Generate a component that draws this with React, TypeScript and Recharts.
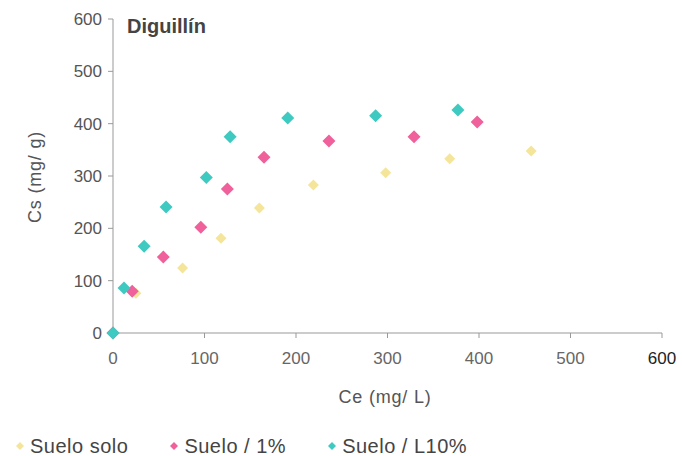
import React from "react";
import { ScatterChart, Scatter, XAxis, YAxis } from "recharts";

// Suelo solo
const soloCe = [0, 25, 76, 118, 160, 219, 298, 368, 457];
const soloCs = [0, 76, 124, 181, 239, 283, 306, 333, 348];

// Suelo / 1%
const unoCe = [0, 21, 55, 96, 125, 165, 236, 329, 398];
const unoCs = [0, 80, 145, 202, 275, 336, 367, 375, 403];

// Suelo / L10%
const diezCe = [0, 12, 34, 58, 102, 128, 191, 287, 377];
const diezCs = [0, 86, 166, 241, 297, 375, 411, 415, 426];

const xTicks = [0, 100, 200, 300, 400, 500, 600];
const yTicks = [0, 100, 200, 300, 400, 500, 600];

const seriesNames = ["Suelo solo", "Suelo / 1%", "Suelo / L10%"];
const seriesColors = ["#f4e59b", "#f0609a", "#3fcac1"];

const toPoints = (ce: number[], cs: number[]) =>
  ce.map((c, i) => ({ ce: c, cs: cs[i] }));

const soloData = toPoints(soloCe, soloCs);
const unoData = toPoints(unoCe, unoCs);
const diezData = toPoints(diezCe, diezCs);

const FONT = "'Liberation Sans', Arial, sans-serif";

const diamond = (color: string, r: number) => (props: any) => {
  const { cx, cy } = props;
  return (
    <polygon
      points={`${cx},${cy - r} ${cx + r},${cy} ${cx},${cy + r} ${cx - r},${cy}`}
      fill={color}
    />
  );
};

const XTick = (props: any) => {
  const { x, y, payload } = props;
  return (
    <text
      x={x}
      y={y}
      dy={24}
      textAnchor="middle"
      fontSize={17}
      fontFamily={FONT}
      fill={payload.value === 600 ? "#222" : "#666"}
    >
      {payload.value}
    </text>
  );
};

const App = () => {
  return (
    <div style={{ position: "absolute", left: 0, top: 0, width: 682, height: 456, background: "#fff" }}>
      <ScatterChart
        width={682}
        height={456}
        margin={{ top: 19, right: 20, left: 0, bottom: 0 }}
      >
        <XAxis
          type="number"
          dataKey="ce"
          domain={[0, 600]}
          ticks={xTicks}
          height={123}
          stroke="#999"
          tickSize={5}
          tick={<XTick />}
          label={{
            content: () => (
              <text x={385} y={403} textAnchor="middle" fontSize={18} letterSpacing={0.8} fontFamily={FONT} fill="#555">
                Ce (mg/ L)
              </text>
            ),
          }}
        />
        <YAxis
          type="number"
          dataKey="cs"
          domain={[0, 600]}
          ticks={yTicks}
          width={113}
          stroke="#999"
          tickSize={5}
          tickMargin={6}
          tick={{ fill: "#555", fontSize: 17, fontFamily: FONT }}
          label={{
            content: () => (
              <text
                x={41}
                y={177}
                transform="rotate(-90 41 177)"
                textAnchor="middle"
                fontSize={18}
                letterSpacing={0.8}
                fontFamily={FONT}
                fill="#555"
              >
                Cs (mg/ g)
              </text>
            ),
          }}
        />
        <Scatter name={seriesNames[0]} data={soloData} shape={diamond(seriesColors[0], 5.5)} isAnimationActive={false} />
        <Scatter name={seriesNames[1]} data={unoData} shape={diamond(seriesColors[1], 6.5)} isAnimationActive={false} />
        <Scatter name={seriesNames[2]} data={diezData} shape={diamond(seriesColors[2], 6.5)} isAnimationActive={false} />
      </ScatterChart>
      <div
        style={{
          position: "absolute",
          left: 127,
          top: 15,
          fontFamily: FONT,
          fontWeight: "bold",
          fontSize: 20,
          color: "#444",
        }}
      >
        Diguillín
      </div>
      <div
        style={{
          position: "absolute",
          left: 14,
          top: 434,
          display: "flex",
          fontFamily: FONT,
          fontSize: 20,
          lineHeight: "24px",
          letterSpacing: 0.5,
          color: "#444",
        }}
      >
        {seriesNames.map((name, i) => (
          <div key={name} style={{ display: "flex", alignItems: "center", marginRight: i === 0 ? 40 : 40 }}>
            <svg width={12} height={12} style={{ marginRight: 4 }}>
              <polygon points="6,2 10,6 6,10 2,6" fill={seriesColors[i]} />
            </svg>
            {name}
          </div>
        ))}
      </div>
    </div>
  );
};

export default App;
